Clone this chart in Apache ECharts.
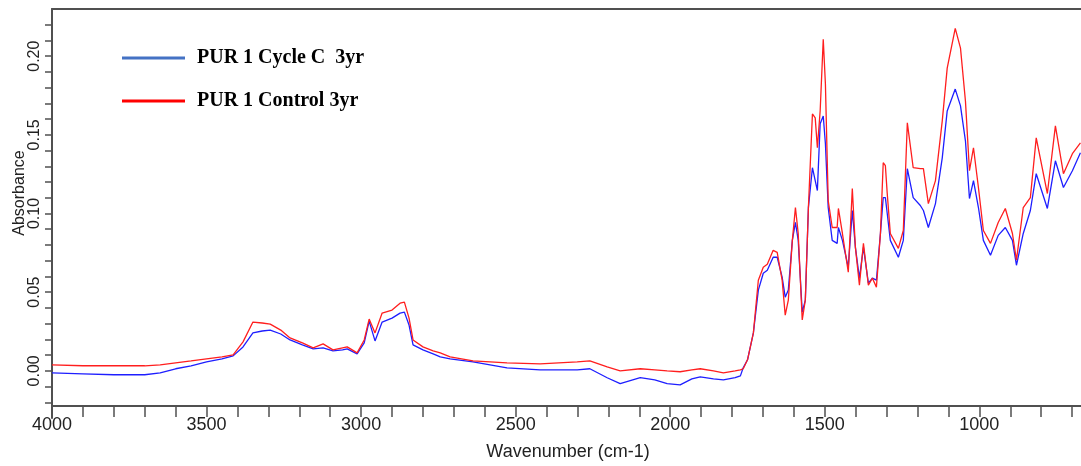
<!DOCTYPE html>
<html>
<head>
<meta charset="utf-8">
<script src="https://cdn.jsdelivr.net/npm/echarts@6/dist/echarts.min.js"></script>
<style>
  html, body { margin: 0; padding: 0; background: #fff; }
  #chart { width: 1081px; height: 466px; }
</style>
</head>
<body>
<div id="chart"></div>
<script>
// wavenumber (cm-1)
var wavenumbers = [4000, 3900, 3800, 3700, 3650, 3600, 3550, 3500, 3450, 3414, 3382, 3350, 3320, 3294, 3260, 3230, 3190, 3155, 3123, 3091, 3060, 3045, 3013, 2990, 2974, 2955, 2932, 2900, 2874, 2860, 2845, 2832, 2800, 2767, 2744, 2712, 2638, 2528, 2421, 2301, 2260, 2204, 2162, 2097, 2050, 2010, 1968, 1930, 1903, 1860, 1828, 1790, 1773, 1764, 1750, 1731, 1715, 1699, 1686, 1667, 1654, 1638, 1628, 1618, 1605, 1595, 1586, 1573, 1563, 1553, 1540, 1531, 1524, 1515, 1505, 1498, 1489, 1476, 1460, 1456, 1443, 1424, 1411, 1401, 1388, 1375, 1359, 1346, 1333, 1320, 1311, 1304, 1298, 1288, 1262, 1246, 1233, 1214, 1191, 1181, 1165, 1142, 1120, 1104, 1078, 1061, 1045, 1032, 1019, 1003, 987, 964, 939, 916, 893, 880, 858, 835, 816, 780, 754, 728, 699, 673];

// PUR 1 Cycle C 3yr (blue)
var cycleC = [-0.0013, -0.0019, -0.0025, -0.0025, -0.0013, 0.0013, 0.0032, 0.0057, 0.0076, 0.0095, 0.0152, 0.0241, 0.0253, 0.0259, 0.0234, 0.0196, 0.0165, 0.0139, 0.0146, 0.0127, 0.0133, 0.0139, 0.0108, 0.0177, 0.0316, 0.019, 0.031, 0.0335, 0.0367, 0.0373, 0.0291, 0.0165, 0.0133, 0.0108, 0.0089, 0.0076, 0.0057, 0.0019, 0.0006, 0.0006, 0.0013, -0.0044, -0.0082, -0.0044, -0.0057, -0.0082, -0.0089, -0.0051, -0.0038, -0.0051, -0.0057, -0.0044, -0.0032, 0.0019, 0.007, 0.0241, 0.0513, 0.062, 0.0639, 0.0722, 0.0722, 0.0595, 0.0468, 0.0513, 0.0829, 0.0943, 0.0829, 0.0373, 0.0449, 0.1038, 0.1291, 0.1209, 0.1146, 0.157, 0.162, 0.1443, 0.1038, 0.0829, 0.081, 0.0911, 0.0829, 0.0658, 0.1019, 0.0785, 0.0589, 0.0785, 0.0557, 0.0589, 0.0576, 0.0873, 0.1101, 0.1101, 0.1, 0.0829, 0.0722, 0.0829, 0.1285, 0.1101, 0.1051, 0.1019, 0.0911, 0.1063, 0.1354, 0.1652, 0.1791, 0.1684, 0.1462, 0.1095, 0.1209, 0.1038, 0.0829, 0.0734, 0.0861, 0.0911, 0.0829, 0.0671, 0.0873, 0.1019, 0.1253, 0.1032, 0.1335, 0.1165, 0.1272, 0.1386];

// PUR 1 Control 3yr (red)
var control = [0.0038, 0.0032, 0.0032, 0.0032, 0.0038, 0.0051, 0.0063, 0.0076, 0.0089, 0.0101, 0.0184, 0.031, 0.0304, 0.0297, 0.0259, 0.0209, 0.0177, 0.0146, 0.0171, 0.0133, 0.0146, 0.0152, 0.0114, 0.0196, 0.0329, 0.0241, 0.0367, 0.0386, 0.043, 0.0437, 0.0335, 0.0196, 0.0152, 0.0127, 0.0114, 0.0089, 0.0063, 0.0051, 0.0044, 0.0057, 0.0063, 0.0025, 0, 0.0013, 0.0006, 0, -0.0006, 0.0006, 0.0013, 0, -0.0013, 0, 0.0006, 0.0013, 0.007, 0.0241, 0.0576, 0.0658, 0.0677, 0.0766, 0.0753, 0.0576, 0.0354, 0.0449, 0.0829, 0.1038, 0.0873, 0.0323, 0.0449, 0.1038, 0.1633, 0.1608, 0.1418, 0.1652, 0.2108, 0.1823, 0.1082, 0.0911, 0.0911, 0.1032, 0.0873, 0.0627, 0.1158, 0.0785, 0.0544, 0.081, 0.0544, 0.0589, 0.0532, 0.0873, 0.1323, 0.1304, 0.1127, 0.0873, 0.0778, 0.0892, 0.1576, 0.1291, 0.1285, 0.1285, 0.1063, 0.1209, 0.1589, 0.1924, 0.2177, 0.2051, 0.1715, 0.1272, 0.1418, 0.1165, 0.0892, 0.081, 0.0943, 0.1032, 0.0873, 0.0703, 0.1038, 0.1101, 0.1481, 0.1127, 0.1557, 0.1253, 0.138, 0.1449];

var xLabels = [4000, 3500, 3000, 2500, 2000, 1500, 1000];
var yLabels = [0, 0.05, 0.1, 0.15, 0.2];
var yTicks = [-0.02, -0.01, 0, 0.01, 0.02, 0.03, 0.04, 0.05, 0.06, 0.07, 0.08, 0.09, 0.1, 0.11, 0.12, 0.13, 0.14, 0.15, 0.16, 0.17, 0.18, 0.19, 0.2, 0.21, 0.22];

var axisColor = "#505050";
var chart = echarts.init(document.getElementById("chart"));

chart.setOption({
  animation: false,
  backgroundColor: "#fff",
  grid: {
    left: 52,
    top: 9,
    right: -22,
    bottom: 48,
    outerBoundsMode: "none",
  },
  legend: {
    orient: "vertical",
    left: 122,
    top: 48,
    padding: 0,
    itemWidth: 63,
    itemHeight: 3,
    itemGap: 23,
    icon: "rect",
    textStyle: {
      fontFamily: "Liberation Serif",
      fontWeight: "bold",
      fontSize: 20,
      color: "#000",
      padding: [0, 0, 0, 7],
    },
    data: [
      { name: "PUR 1 Cycle C  3yr", itemStyle: { color: "#4472c4" } },
      { name: "PUR 1 Control 3yr", itemStyle: { color: "#ff0000" } },
    ],
  },
  xAxis: [
    {
      type: "value",
      inverse: true,
      min: 600,
      max: 4000,
      interval: 100,
      offset: -12,
      axisLine: { onZero: false, lineStyle: { color: axisColor, width: 2 } },
      axisTick: { length: 11, lineStyle: { color: axisColor, width: 1.5 } },
      axisLabel: {
        customValues: xLabels,
        margin: 10,
        fontFamily: "Liberation Sans",
        fontSize: 18,
        color: "#222",
        formatter: function (v) {
          return String(v);
        },
      },
      splitLine: { show: false },
    },
    {
      type: "value",
      position: "top",
      inverse: true,
      min: 600,
      max: 4000,
      axisLine: { onZero: false, lineStyle: { color: axisColor, width: 2 } },
      axisTick: { show: false },
      axisLabel: { show: false },
      splitLine: { show: false },
    },
  ],
  yAxis: {
    type: "value",
    min: -0.03,
    max: 0.23,
    interval: 0.01,
    axisLine: { show: true, onZero: false, lineStyle: { color: axisColor, width: 2 } },
    axisTick: { show: true, customValues: yTicks, length: 7, lineStyle: { color: axisColor, width: 1.5 } },
    axisLabel: {
      customValues: yLabels,
      rotate: 90,
      margin: 9,
      fontFamily: "Liberation Sans",
      fontSize: 16,
      color: "#222",
      formatter: function (v) {
        return v.toFixed(2);
      },
    },
    splitLine: { show: false },
  },
  graphic: [
    {
      type: "text",
      x: 20,
      y: 193,
      rotation: Math.PI / 2,
      style: {
        text: "Absorbance",
        fontFamily: "Liberation Sans",
        fontSize: 16,
        fill: "#222",
        textAlign: "center",
        textVerticalAlign: "middle",
      },
    },
    {
      type: "text",
      x: 568,
      y: 452,
      style: {
        text: "Wavenumber (cm-1)",
        fontFamily: "Liberation Sans",
        fontSize: 18,
        fill: "#222",
        textAlign: "center",
        textVerticalAlign: "middle",
      },
    },
  ],
  series: [
    {
      name: "PUR 1 Cycle C  3yr",
      type: "line",
      showSymbol: false,
      lineStyle: { color: "#1e1eff", width: 1.3 },
      itemStyle: { color: "#1e1eff" },
      data: wavenumbers.map(function (w, i) { return [w, cycleC[i]]; }),
    },
    {
      name: "PUR 1 Control 3yr",
      type: "line",
      showSymbol: false,
      lineStyle: { color: "#ff1e1e", width: 1.3 },
      itemStyle: { color: "#ff1e1e" },
      data: wavenumbers.map(function (w, i) { return [w, control[i]]; }),
    },
  ],
});
</script>
</body>
</html>
